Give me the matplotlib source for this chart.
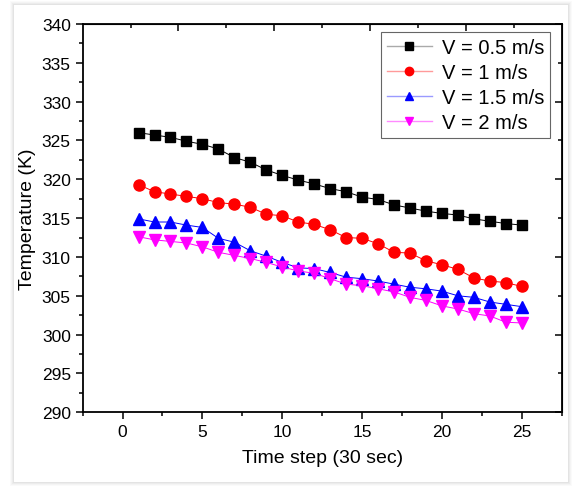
import numpy as np
import matplotlib.pyplot as plt
from matplotlib.patches import Rectangle
from matplotlib.ticker import MultipleLocator, FixedLocator

plt.rcParams['font.family'] = ['Liberation Sans', 'DejaVu Sans']

# time steps and temperatures
steps = np.arange(1, 26)
t_05 = [326.0, 325.7, 325.4, 324.9, 324.5, 323.9, 322.8, 322.2, 321.2, 320.5,
        319.9, 319.4, 318.8, 318.4, 317.7, 317.4, 316.7, 316.3, 315.9, 315.6,
        315.4, 314.9, 314.6, 314.3, 314.1]
t_1 = [319.3, 318.4, 318.1, 317.8, 317.5, 317.0, 316.8, 316.4, 315.5, 315.3,
       314.5, 314.2, 313.5, 312.5, 312.4, 311.7, 310.6, 310.5, 309.5, 309.0,
       308.4, 307.3, 306.9, 306.7, 306.2]
t_15 = [314.9, 314.5, 314.5, 314.1, 313.8, 312.4, 311.9, 310.8, 310.1, 309.3,
        308.6, 308.5, 308.0, 307.4, 307.2, 306.9, 306.5, 306.1, 305.9, 305.6,
        305.0, 304.8, 304.2, 303.9, 303.6]
t_2 = [312.6, 312.2, 312.0, 311.8, 311.3, 310.6, 310.2, 309.8, 309.3, 308.7,
       308.2, 307.9, 307.2, 306.5, 306.3, 305.9, 305.5, 304.8, 304.4, 303.7,
       303.3, 302.7, 302.4, 301.6, 301.5]

labels = ['V = 0.5 m/s', 'V = 1 m/s', 'V = 1.5 m/s', 'V = 2 m/s']
colors = ['black', 'red', 'blue', 'magenta']
light = ['#aaaaaa', '#ff9a9a', '#9a9aff', '#ff8aff']
markers = ['s', 'o', '^', 'v']
sizes = [7, 8, 8, 8]

fig = plt.figure(figsize=(5.74, 4.89), dpi=100)
fig.patch.set_facecolor('white')
# card with soft shadow
for i, a in enumerate([0.02, 0.025, 0.03, 0.035]):
    d = (4 - i) / 574
    fig.patches.append(Rectangle((14 / 574 - d, 6 / 489 - d * 1.17), 554 / 574 + 2 * d, 477 / 489 + 2 * d * 1.17,
                                 transform=fig.transFigure, facecolor='black', alpha=a, edgecolor='none', zorder=-5))
fig.patches.append(Rectangle((14 / 574, 6 / 489), 554 / 574, 477 / 489, transform=fig.transFigure,
                             facecolor='white', edgecolor='none', zorder=-4))

ax = fig.add_axes([0.144, 0.1548, 0.8346, 0.7942])
ax.set_facecolor('none')

for y, lab, c, m, s in zip([t_05, t_1, t_15, t_2], labels, colors, markers, sizes):
    ax.plot(steps, y, color=c, lw=0.7, marker=m, ms=s, mec=c, mfc=c, label=lab)

ax.set_xlim(-2.5, 27.5)
ax.set_ylim(290, 340)
ax.xaxis.set_major_locator(MultipleLocator(5))
ax.xaxis.set_minor_locator(MultipleLocator(2.5))
ax.yaxis.set_major_locator(MultipleLocator(5))
ax.yaxis.set_minor_locator(MultipleLocator(2.5))
ax.tick_params(which='major', direction='out', length=5, width=1.1, labelsize=12.5)
ax.tick_params(which='minor', direction='out', length=3, width=1.1)
for sp in ax.spines.values():
    sp.set_linewidth(1.3)

# mirrored axes with their own ticks
top = ax.secondary_xaxis('top')
top.xaxis.set_major_locator(FixedLocator([3.5, 9.5, 15.5, 21.5]))
top.xaxis.set_minor_locator(FixedLocator([0.5, 6.5, 12.5, 18.5, 24.5]))
top.tick_params(which='major', direction='in', length=5, width=1.1, labeltop=False)
top.tick_params(which='minor', direction='in', length=3, width=1.1)
right = ax.secondary_yaxis('right')
right.yaxis.set_major_locator(MultipleLocator(10))
right.yaxis.set_minor_locator(MultipleLocator(5))
right.tick_params(which='major', direction='in', length=5, width=1.1, labelright=False)
right.tick_params(which='minor', direction='in', length=3, width=1.1)

ax.set_xlabel('Time step (30 sec)', fontsize=14, labelpad=7)
ax.set_ylabel('Temperature (K)', fontsize=14, labelpad=4)

leg = ax.legend(loc='upper right', bbox_to_anchor=(0.9756, 0.979), borderaxespad=0, fontsize=14.5,
                fancybox=False, edgecolor='#666666', framealpha=1, handlelength=2.2, markerscale=0.75,
                labelspacing=0.3, borderpad=0.3, handletextpad=0.5)
leg.get_frame().set_linewidth(0.8)
for h, lc in zip(leg.get_lines(), light):
    h.set_color(lc)
    h.set_linewidth(1.0)

fig.savefig('out.png', dpi=100)
